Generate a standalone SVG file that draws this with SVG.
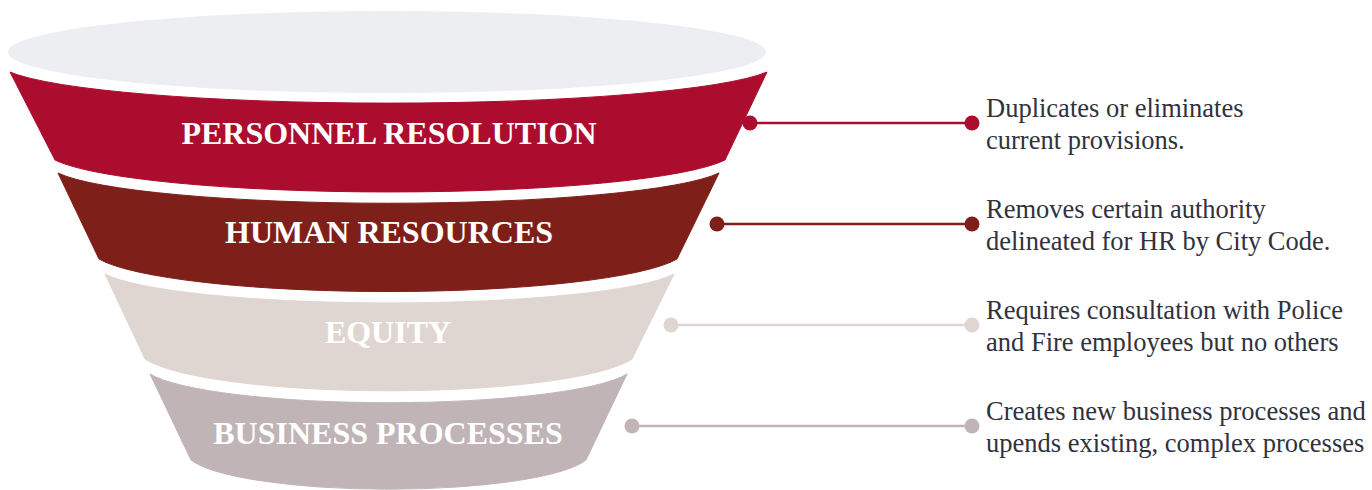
<svg xmlns="http://www.w3.org/2000/svg" width="1372" height="490" viewBox="0 0 1372 490">
  <style>
    .lbl { font-family: "Liberation Serif", "Times New Roman", serif; font-weight: bold; font-size: 32px; fill: #FFFFFF; text-anchor: middle; }
    .desc { font-family: "Liberation Serif", "Times New Roman", serif; font-size: 26.5px; fill: #30323D; }
    .c1 { fill: #AC0D2E; stroke: #AC0D2E; }
    .c2 { fill: #7F1F19; stroke: #7F1F19; }
    .c3 { fill: #E0D6D1; stroke: #E0D6D1; }
    .c4 { fill: #C0B4B6; stroke: #C0B4B6; }
    .conn line { stroke-width: 2.5; }
  </style>
  <rect width="1372" height="490" fill="#FFFFFF"/>
  <g id="top">
    <ellipse cx="387" cy="52" rx="379" ry="41" fill="#EDEEF2"/>
  </g>
  <g id="band-personnel">
    <path class="c1" stroke="none" d="M10,72 A390,41 0 0 0 767,72 L725,160 A345,42 0 0 1 55,160 Z"/>
    <text class="lbl" x="389" y="144">PERSONNEL RESOLUTION</text>
  </g>
  <g id="band-hr">
    <path class="c2" stroke="none" d="M58,173 A340,39.5 0 0 0 719,173 L677,259 A298,43 0 0 1 99,259 Z"/>
    <text class="lbl" x="389" y="243">HUMAN RESOURCES</text>
  </g>
  <g id="band-equity">
    <path class="c3" stroke="none" d="M105,274 A293,38 0 0 0 674,274 L632,359 A251,42 0 0 1 145,359 Z"/>
    <text class="lbl" x="388" y="343">EQUITY</text>
  </g>
  <g id="band-business">
    <path class="c4" stroke="none" d="M150,374 A246,38 0 0 0 627,374 L586,460 A203,38 0 0 1 191,460 Z"/>
    <text class="lbl" x="388" y="444">BUSINESS PROCESSES</text>
  </g>
  <g id="connectors" class="conn">
    <g class="c1">
      <line x1="750" y1="123" x2="972" y2="123"/>
      <circle cx="750" cy="123" r="7.5" stroke="none"/>
      <circle cx="972" cy="123" r="7.5" stroke="none"/>
    </g>
    <g class="c2">
      <line x1="717" y1="224" x2="972" y2="224"/>
      <circle cx="717" cy="224" r="7.5" stroke="none"/>
      <circle cx="972" cy="224" r="7.5" stroke="none"/>
    </g>
    <g class="c3">
      <line x1="671" y1="325" x2="972" y2="325"/>
      <circle cx="671" cy="325" r="7.5" stroke="none"/>
      <circle cx="972" cy="325" r="7.5" stroke="none"/>
    </g>
    <g class="c4">
      <line x1="632" y1="426" x2="972" y2="426"/>
      <circle cx="632" cy="426" r="7.5" stroke="none"/>
      <circle cx="972" cy="426" r="7.5" stroke="none"/>
    </g>
  </g>
  <g id="desc-personnel">
    <text class="desc" x="986" y="117">Duplicates or eliminates</text>
    <text class="desc" x="986" y="149">current provisions.</text>
  </g>
  <g id="desc-hr">
    <text class="desc" x="986" y="218">Removes certain authority</text>
    <text class="desc" x="986" y="250">delineated for HR by City Code.</text>
  </g>
  <g id="desc-equity">
    <text class="desc" x="986" y="319">Requires consultation with Police</text>
    <text class="desc" x="986" y="351">and Fire employees but no others</text>
  </g>
  <g id="desc-business">
    <text class="desc" x="986" y="420">Creates new business processes and</text>
    <text class="desc" x="986" y="452">upends existing, complex processes</text>
  </g>
</svg>
